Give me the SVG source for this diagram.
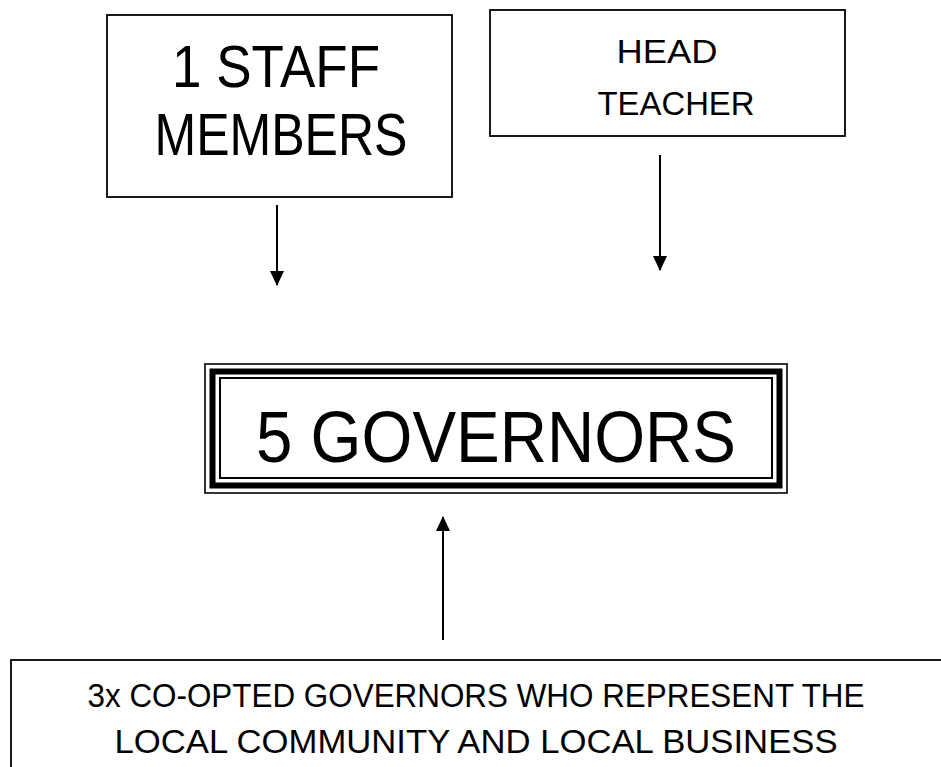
<svg xmlns="http://www.w3.org/2000/svg" width="941" height="767" viewBox="0 0 941 767">
<style>
.box{fill:#fff;stroke:#000;stroke-width:1.8}
.t{font-family:"Liberation Sans","DejaVu Sans",sans-serif;fill:#000;text-anchor:middle}
.c{stroke:#000;stroke-width:2;fill:none}
</style>
<defs>
<marker id="ah" markerWidth="15" markerHeight="14" refX="14" refY="7" orient="auto" markerUnits="userSpaceOnUse">
<path d="M0,0 L15,7 L0,14 Z" fill="#000"/>
</marker>
</defs>
<rect width="941" height="767" fill="#fff"/>
<g id="staff">
<rect class="box" x="107" y="15" width="345" height="182"/>
<text class="t" x="276" y="87" font-size="60" textLength="208" lengthAdjust="spacingAndGlyphs">1 STAFF</text>
<text class="t" x="281" y="155" font-size="60" textLength="253" lengthAdjust="spacingAndGlyphs">MEMBERS</text>
</g>
<g id="head">
<rect class="box" x="490" y="10" width="355" height="126"/>
<text class="t" x="667" y="63" font-size="33" textLength="101" lengthAdjust="spacingAndGlyphs">HEAD</text>
<text class="t" x="676" y="115" font-size="33" textLength="157" lengthAdjust="spacingAndGlyphs">TEACHER</text>
</g>
<g id="governors">
<rect x="205" y="364" width="582" height="129" fill="#fff" stroke="#000" stroke-width="1.6"/>
<rect x="212.5" y="371.5" width="567" height="114" fill="none" stroke="#000" stroke-width="6"/>
<rect x="220" y="378" width="552" height="100" fill="none" stroke="#000" stroke-width="2"/>
<text class="t" x="496" y="462" font-size="73" textLength="480" lengthAdjust="spacingAndGlyphs">5 GOVERNORS</text>
</g>
<g id="coopted">
<rect class="box" x="11" y="660" width="940" height="120"/>
<text class="t" x="476" y="707" font-size="33" textLength="777" lengthAdjust="spacingAndGlyphs">3x CO-OPTED GOVERNORS WHO REPRESENT THE</text>
<text class="t" x="476" y="753" font-size="33" textLength="723" lengthAdjust="spacingAndGlyphs">LOCAL COMMUNITY AND LOCAL BUSINESS</text>
</g>
<g id="connectors">
<line class="c" x1="277" y1="205" x2="277" y2="285" marker-end="url(#ah)"/>
<line class="c" x1="660" y1="155" x2="660" y2="270" marker-end="url(#ah)"/>
<line class="c" x1="443" y1="640" x2="443" y2="517" marker-end="url(#ah)"/>
</g>
</svg>
